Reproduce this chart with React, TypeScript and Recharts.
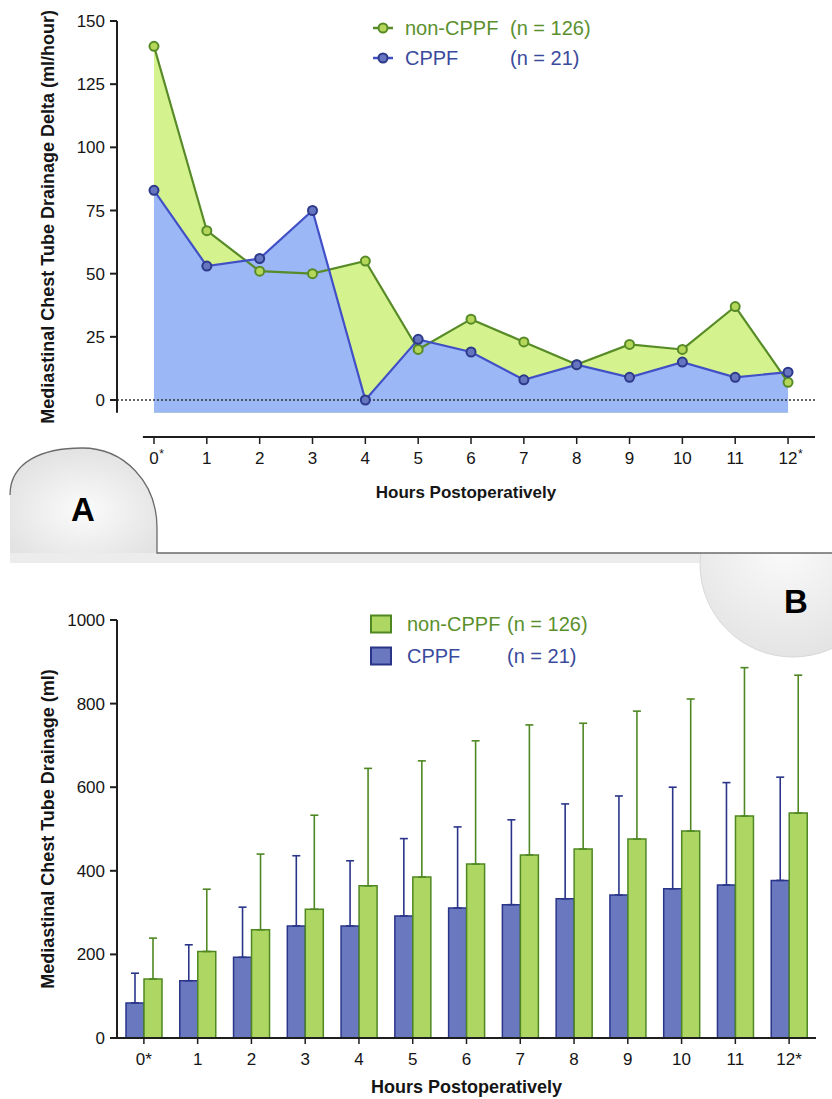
import React from 'react';
import {
  ComposedChart,
  BarChart,
  Area,
  Line,
  Bar,
  XAxis,
  YAxis,
  ReferenceLine,
  ErrorBar,
  Legend,
  Label,
} from 'recharts';

// ---------- data ----------
const hours = [0, 1, 2, 3, 4, 5, 6, 7, 8, 9, 10, 11, 12];
const hourLabels = ['0*', '1', '2', '3', '4', '5', '6', '7', '8', '9', '10', '11', '12*'];
const starredHours = [0, 12];
const seriesNames = ['non-CPPF', 'CPPF'];
const groupSizes = ['(n = 126)', '(n = 21)'];

// Panel A: hourly drainage delta (ml/hour)
const deltaNonCppf = [140, 67, 51, 50, 55, 20, 32, 23, 14, 22, 20, 37, 7];
const deltaCppf = [83, 53, 56, 75, 0, 24, 19, 8, 14, 9, 15, 9, 11];
const deltaTicks = [0, 25, 50, 75, 100, 125, 150];

// Panel B: cumulative drainage (ml), mean and SD
const cumCppfMean = [84, 137, 193, 268, 268, 292, 311, 319, 333, 342, 357, 366, 377];
const cumCppfSd = [71, 86, 120, 168, 156, 185, 194, 203, 227, 237, 243, 245, 247];
const cumNonCppfMean = [141, 207, 259, 308, 364, 385, 416, 438, 452, 476, 495, 531, 538];
const cumNonCppfSd = [98, 149, 181, 225, 281, 278, 295, 311, 301, 306, 316, 355, 330];
const drainTicks = [0, 200, 400, 600, 800, 1000];

// ---------- style ----------
const FONT = '"Liberation Sans", Arial, Helvetica, sans-serif';
const AX = '#1e1e1e';
const TXT = '#151515';
const GREEN_LINE = '#578b27';
const GREEN_DOT = '#b4d75a';
const GREEN_AREA = '#d4f28d';
const BLUE_LINE = '#4150c6';
const BLUE_DOT = '#6675bf';
const BLUE_DOT_STROKE = '#2d3a8c';
const BLUE_AREA = '#9bb7f6';
const GREEN_TEXT = '#5b902d';
const BLUE_TEXT = '#3a4a9c';
const BAR_BLUE = '#6a79bf';
const BAR_BLUE_STROKE = '#2a358a';
const BAR_GREEN = '#aed662';
const BAR_GREEN_STROKE = '#4f8823';

// axis window for panel A
const X_MIN = -0.7;
const X_MAX = 12.51;
const X_AXIS_START = -0.21;
const Y_MIN = -14.64;
const FILL_BASE = -5;

const deltaData = hours.map((h, i) => ({
  hour: h,
  nonCppf: deltaNonCppf[i],
  cppf: deltaCppf[i],
}));

const barData = hourLabels.map((lab, i) => ({
  label: lab,
  cppf: cumCppfMean[i],
  cppfErr: [0, cumCppfSd[i]],
  nonCppf: cumNonCppfMean[i],
  nonCppfErr: [0, cumNonCppfSd[i]],
}));

const TopTick = (props: any) => {
  const { x, y, payload } = props;
  const v = payload.value;
  const s = String(v);
  const fs = 17;
  const w = s.length * 0.556 * fs;
  const star = starredHours.includes(v);
  return (
    <g>
      <text x={x} y={y} dy="0.71em" textAnchor="middle" fontSize={fs} fill={TXT} fontFamily={FONT}>
        {s}
      </text>
      {star && (
        <text x={x + w / 2 + 0.5} y={y} dy={6} textAnchor="start" fontSize={12} fill={TXT} fontFamily={FONT}>
          *
        </text>
      )}
    </g>
  );
};

const TopLegend = () => {
  const rows = [
    { name: seriesNames[0], n: groupSizes[0], line: GREEN_LINE, dot: GREEN_DOT, stroke: GREEN_LINE, text: GREEN_TEXT },
    { name: seriesNames[1], n: groupSizes[1], line: BLUE_LINE, dot: BLUE_DOT, stroke: BLUE_DOT_STROKE, text: BLUE_TEXT },
  ];
  return (
    <svg width={240} height={66}>
      {rows.map((r, i) => {
        const cy = 18 + i * 30;
        return (
          <g key={r.name}>
            <line x1={5} x2={25} y1={cy} y2={cy} stroke={r.line} strokeWidth={2.5} />
            <circle cx={15} cy={cy} r={4.5} fill={r.dot} stroke={r.stroke} strokeWidth={2} />
            <text x={37} y={cy} dy="0.36em" fontSize={20} fill={r.text} fontFamily={FONT}>
              {r.name}
            </text>
            <text x={142} y={cy} dy="0.36em" fontSize={20} fill={r.text} fontFamily={FONT}>
              {r.n}
            </text>
          </g>
        );
      })}
    </svg>
  );
};

const BottomLegend = () => {
  const rows = [
    { name: seriesNames[0], n: groupSizes[0], fill: BAR_GREEN, stroke: BAR_GREEN_STROKE, text: GREEN_TEXT },
    { name: seriesNames[1], n: groupSizes[1], fill: BAR_BLUE, stroke: BAR_BLUE_STROKE, text: BLUE_TEXT },
  ];
  return (
    <svg width={240} height={66}>
      {rows.map((r, i) => {
        const cy = 14 + i * 32;
        return (
          <g key={r.name}>
            <rect x={3} y={cy - 8.5} width={20} height={17} fill={r.fill} stroke={r.stroke} strokeWidth={2} />
            <text x={39} y={cy} dy="0.36em" fontSize={20} fill={r.text} fontFamily={FONT}>
              {r.name}
            </text>
            <text x={139} y={cy} dy="0.36em" fontSize={20} fill={r.text} fontFamily={FONT}>
              {r.n}
            </text>
          </g>
        );
      })}
    </svg>
  );
};

const topYLabel = (props: any) => {
  const vb = props.viewBox || {};
  const top = vb.y;
  const h = vb.height;
  // centre on the drawn axis extent (FILL_BASE .. 150)
  const yTopVal = 150;
  const frac = (yTopVal - (FILL_BASE + yTopVal) / 2) / (yTopVal - Y_MIN);
  const cy = top + frac * h;
  const cx = 48;
  return (
    <text
      x={cx}
      y={cy}
      transform={`rotate(-90, ${cx}, ${cy})`}
      textAnchor="middle"
      dy="0.36em"
      fontSize={18}
      fontWeight="bold"
      fill={TXT}
      fontFamily={FONT}
    >
      Mediastinal Chest Tube Drainage Delta (ml/hour)
    </text>
  );
};

const bottomYLabel = (props: any) => {
  const vb = props.viewBox || {};
  const cy = vb.y + vb.height / 2;
  const cx = 48;
  return (
    <text
      x={cx}
      y={cy}
      transform={`rotate(-90, ${cx}, ${cy})`}
      textAnchor="middle"
      dy="0.36em"
      fontSize={18}
      fontWeight="bold"
      fill={TXT}
      fontFamily={FONT}
    >
      Mediastinal Chest Tube Drainage (ml)
    </text>
  );
};

const Decorations = () => (
  <svg width={832} height={1099} style={{ position: 'absolute', left: 0, top: 0 }}>
    <defs>
      <radialGradient id="gradA" cx="50%" cy="60%" r="60%">
        <stop offset="0" stopColor="#fbfbfb" />
        <stop offset="1" stopColor="#e2e2e2" />
      </radialGradient>
      <radialGradient id="gradB" cx="45%" cy="40%" r="60%">
        <stop offset="0" stopColor="#fbfbfb" />
        <stop offset="1" stopColor="#e4e4e4" />
      </radialGradient>
      <clipPath id="belowBand">
        <rect x={0} y={554} width={832} height={545} />
      </clipPath>
    </defs>
    <rect x={10} y={553} width={822} height={10} fill="#ececec" />
    <path
      d="M10,553 L10,495 C10,462 42,448 82,448 C124,448 157,482 157,528 L157,553 Z"
      fill="url(#gradA)"
    />
    <path
      d="M10,495 C10,462 42,448 82,448 C124,448 157,482 157,528 L157,553 L832,553"
      fill="none"
      stroke="#6b6b6b"
      strokeWidth={1.3}
    />
    <circle cx={793} cy={564} r={93} fill="url(#gradB)" stroke="#d8d8d8" strokeWidth={1} clipPath="url(#belowBand)" />
    <text x={83} y={521} textAnchor="middle" fontSize={33} fontWeight="bold" fill="#000" fontFamily={FONT}>
      A
    </text>
    <text x={796} y={613} textAnchor="middle" fontSize={33} fontWeight="bold" fill="#000" fontFamily={FONT}>
      B
    </text>
  </svg>
);

export default function App() {
  return (
    <div
      style={{
        position: 'absolute',
        left: 0,
        top: 0,
        width: 832,
        height: 1099,
        background: '#fff',
        fontFamily: FONT,
        overflow: 'hidden',
      }}
    >
      <Decorations />

      {/* Panel A */}
      <div style={{ position: 'absolute', left: 0, top: 0 }}>
        <ComposedChart width={832} height={512} data={deltaData} margin={{ top: 21, right: 17, left: 0, bottom: 12 }}>
          <XAxis
            type="number"
            dataKey="hour"
            domain={[X_MIN, X_MAX]}
            ticks={hours}
            interval={0}
            allowDataOverflow
            axisLine={false}
            tickLine={{ stroke: AX, strokeWidth: 1.5 }}
            tickSize={7}
            tickMargin={8}
            tick={<TopTick />}
            height={63}
          >
            <Label
              value="Hours Postoperatively"
              position="insideBottom"
              offset={2}
              fontSize={17}
              fontWeight="bold"
              fill={TXT}
            />
          </XAxis>
          <YAxis
            type="number"
            domain={[Y_MIN, 150]}
            ticks={deltaTicks}
            interval={0}
            allowDataOverflow
            width={117}
            axisLine={false}
            tickLine={{ stroke: AX, strokeWidth: 2 }}
            tickSize={7}
            tickMargin={5}
            tick={{ fontSize: 17, fill: TXT }}
            label={{ content: topYLabel }}
          />
          <Legend
            layout="vertical"
            align="center"
            verticalAlign="middle"
            content={<TopLegend />}
            wrapperStyle={{ left: 368, top: 10, width: 240, height: 66 }}
          />
          <Area
            type="linear"
            dataKey="nonCppf"
            baseValue={FILL_BASE}
            fill={GREEN_AREA}
            fillOpacity={1}
            stroke="none"
            isAnimationActive={false}
            dot={false}
            activeDot={false}
          />
          <Area
            type="linear"
            dataKey="cppf"
            baseValue={FILL_BASE}
            fill={BLUE_AREA}
            fillOpacity={1}
            stroke="none"
            isAnimationActive={false}
            dot={false}
            activeDot={false}
          />
          <ReferenceLine y={0} stroke="#333" strokeWidth={1.5} strokeDasharray="2 2" />
          <ReferenceLine
            segment={[
              { x: X_MIN, y: FILL_BASE },
              { x: X_MIN, y: 150 },
            ]}
            stroke={AX}
            strokeWidth={2}
            ifOverflow="visible"
          />
          <ReferenceLine
            segment={[
              { x: X_AXIS_START, y: Y_MIN },
              { x: X_MAX, y: Y_MIN },
            ]}
            stroke={AX}
            strokeWidth={2}
            ifOverflow="visible"
          />
          <Line
            type="linear"
            dataKey="nonCppf"
            stroke={GREEN_LINE}
            strokeWidth={2.2}
            dot={{ r: 4.5, fill: GREEN_DOT, stroke: GREEN_LINE, strokeWidth: 2 }}
            activeDot={false}
            isAnimationActive={false}
          />
          <Line
            type="linear"
            dataKey="cppf"
            stroke={BLUE_LINE}
            strokeWidth={2.2}
            dot={{ r: 4.5, fill: BLUE_DOT, stroke: BLUE_DOT_STROKE, strokeWidth: 2 }}
            activeDot={false}
            isAnimationActive={false}
          />
        </ComposedChart>
      </div>

      {/* Panel B */}
      <div style={{ position: 'absolute', left: 0, top: 560 }}>
        <BarChart
          width={832}
          height={539}
          data={barData}
          margin={{ top: 60, right: 16, left: 0, bottom: 0 }}
          barGap={0}
        >
          <XAxis
            dataKey="label"
            interval={0}
            axisLine={{ stroke: AX, strokeWidth: 2 }}
            tickLine={{ stroke: AX, strokeWidth: 1.5 }}
            tickSize={6}
            tickMargin={9}
            tick={{ fontSize: 17, fill: TXT }}
            height={61}
          >
            <Label
              value="Hours Postoperatively"
              position="insideBottom"
              offset={6}
              fontSize={18}
              fontWeight="bold"
              fill={TXT}
            />
          </XAxis>
          <YAxis
            type="number"
            domain={[0, 1000]}
            ticks={drainTicks}
            interval={0}
            width={117}
            axisLine={{ stroke: AX, strokeWidth: 2 }}
            tickLine={{ stroke: AX, strokeWidth: 2 }}
            tickSize={7}
            tickMargin={5}
            tick={{ fontSize: 17, fill: TXT }}
            label={{ content: bottomYLabel }}
          />
          <Legend
            layout="vertical"
            align="center"
            verticalAlign="middle"
            content={<BottomLegend />}
            wrapperStyle={{ left: 368, top: 50, width: 240, height: 66 }}
          />
          <Bar
            dataKey="cppf"
            barSize={18}
            fill={BAR_BLUE}
            stroke={BAR_BLUE_STROKE}
            strokeWidth={1.5}
            isAnimationActive={false}
          >
            <ErrorBar dataKey="cppfErr" width={4} stroke={BAR_BLUE_STROKE} strokeWidth={1.6} direction="y" />
          </Bar>
          <Bar
            dataKey="nonCppf"
            barSize={18}
            fill={BAR_GREEN}
            stroke={BAR_GREEN_STROKE}
            strokeWidth={1.5}
            isAnimationActive={false}
          >
            <ErrorBar dataKey="nonCppfErr" width={4} stroke={BAR_GREEN_STROKE} strokeWidth={1.6} direction="y" />
          </Bar>
        </BarChart>
      </div>
    </div>
  );
}
